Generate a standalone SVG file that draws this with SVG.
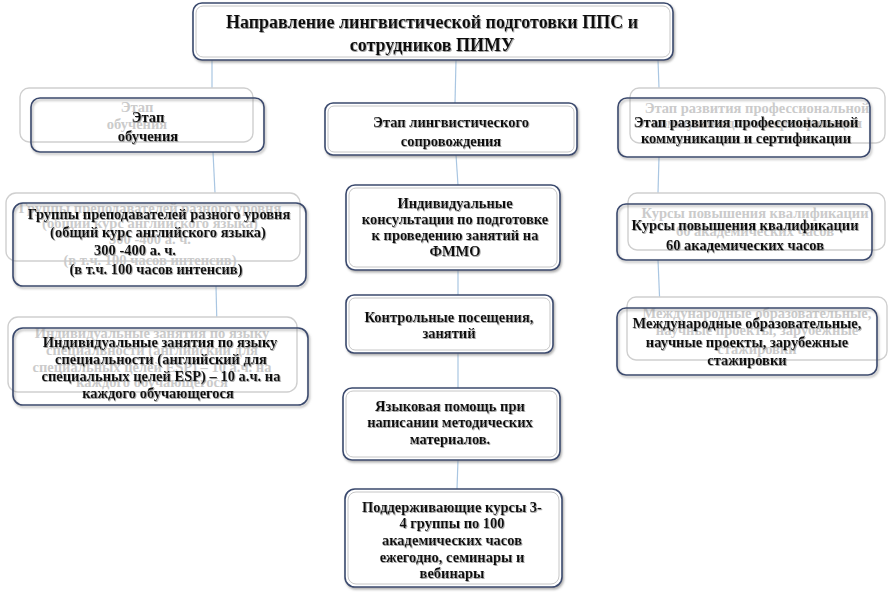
<svg xmlns="http://www.w3.org/2000/svg" width="888" height="592" viewBox="0 0 888 592">
<defs>
<filter id="sh" x="-5%" y="-5%" width="115%" height="125%">
<feDropShadow dx="1.2" dy="1.8" stdDeviation="1.2" flood-color="#777" flood-opacity="0.6"/>
</filter>
<filter id="ts" x="-5%" y="-20%" width="110%" height="150%">
<feDropShadow dx="0.8" dy="1" stdDeviation="0.6" flood-color="#888" flood-opacity="0.8"/>
</filter>
</defs>
<style>
.box{fill:#fff;stroke:#3a4a6e;stroke-width:1.6;filter:url(#sh)}
.open{fill:none}
.inner{fill:none;stroke:#b8b8b8;stroke-width:0.8}
.ghost{fill:#fff;stroke:#cfcfcf;stroke-width:1.4}
.t{font-family:"Liberation Serif","Times New Roman",serif;font-weight:bold;font-size:14.5px;fill:#111;text-anchor:middle;filter:url(#ts)}
.title{font-size:18px}
.g{font-family:"Liberation Serif","Times New Roman",serif;font-weight:bold;font-size:14.5px;fill:#cbcbcb;text-anchor:middle}
.c{fill:none;stroke:#a9c6e2;stroke-width:1.2}
</style>
<rect width="888" height="592" fill="#fff"/>
<g id="connectors">
<line class="c" x1="212" y1="60" x2="212" y2="88"/>
<line class="c" x1="213" y1="152" x2="215" y2="193"/>
<line class="c" x1="216" y1="286" x2="217" y2="328"/>
<line class="c" x1="456" y1="60" x2="455" y2="103"/>
<line class="c" x1="456" y1="155" x2="458" y2="185"/>
<line class="c" x1="458" y1="270" x2="458" y2="295"/>
<line class="c" x1="458" y1="353" x2="458" y2="388"/>
<line class="c" x1="458" y1="460" x2="457" y2="489"/>
<line class="c" x1="658" y1="60" x2="659" y2="88"/>
<line class="c" x1="659" y1="157" x2="658" y2="193"/>
<line class="c" x1="658" y1="260" x2="660" y2="308"/>
</g>
<g id="title">
<rect class="box" x="193" y="3" width="480" height="57" rx="9"/>
<rect class="inner" x="196" y="6" width="474" height="51" rx="7"/>
<text class="t title" x="432" y="28">Направление лингвистической подготовки ППС и</text>
<text class="t title" x="432" y="51">сотрудников ПИМУ</text>
</g>
<g id="left1">
<rect class="ghost" x="20" y="88" width="233" height="54" rx="9"/>
<text class="g" x="137" y="112">Этап</text>
<text class="g" x="137" y="129">обучения</text>
<rect class="box open" x="31" y="98" width="233" height="54" rx="9"/>
<text class="t" x="148" y="122">Этап</text>
<text class="t" x="148" y="141">обучения</text>
</g>
<g id="left2">
<rect class="ghost" x="6" y="193" width="294" height="68" rx="10"/>
<text class="g" x="150" y="213">Группы преподавателей разного уровня</text>
<text class="g" x="150" y="228">(общий курс английского языка)</text>
<text class="g" x="150" y="244" font-size="12">300 -400 а. ч.</text>
<text class="g" x="150" y="265">(в т.ч. 100 часов интенсив)</text>
<rect class="box open" x="13" y="203" width="293" height="83" rx="10"/>
<text class="t" x="159" y="219">Группы преподавателей разного уровня</text>
<text class="t" x="158" y="237">(общий курс английского языка)</text>
<text class="t" x="135" y="255">300 -400 а. ч.</text>
<text class="t" x="156" y="274">(в т.ч. 100 часов интенсив)</text>
</g>
<g id="left3">
<rect class="ghost" x="8" y="317" width="289" height="75" rx="10"/>
<text class="g" x="152" y="338">Индивидуальные занятия по языку</text>
<text class="g" x="152" y="355">специальности (английский для</text>
<text class="g" x="152" y="372">специальных целей ESP) – 10 а.ч. на</text>
<text class="g" x="152" y="387">каждого обучающегося</text>
<rect class="box open" x="13" y="328" width="295" height="77" rx="10"/>
<text class="t" x="160" y="347">Индивидуальные занятия по языку</text>
<text class="t" x="161" y="364">специальности (английский для</text>
<text class="t" x="161" y="381">специальных целей ESP) – 10 а.ч. на</text>
<text class="t" x="158" y="398">каждого обучающегося</text>
</g>
<g id="mid1">
<rect class="box" x="325" y="103" width="252" height="52" rx="8"/>
<rect class="inner" x="328" y="106" width="246" height="46" rx="6"/>
<text class="t" x="451" y="127">Этап лингвистического</text>
<text class="t" x="451" y="146">сопровождения</text>
</g>
<g id="mid2">
<rect class="box" x="346" y="185" width="214" height="85" rx="9"/>
<rect class="inner" x="349" y="188" width="208" height="79" rx="7"/>
<text class="t" x="455" y="208">Индивидуальные</text>
<text class="t" x="455" y="224">консультации по подготовке</text>
<text class="t" x="455" y="240">к проведению занятий на</text>
<text class="t" x="455" y="256">ФММО</text>
</g>
<g id="mid3">
<rect class="box" x="346" y="295" width="207" height="58" rx="8"/>
<rect class="inner" x="349" y="298" width="201" height="52" rx="6"/>
<text class="t" x="449" y="322">Контрольные посещения,</text>
<text class="t" x="449" y="338">занятий</text>
</g>
<g id="mid4">
<rect class="box" x="343" y="388" width="217" height="72" rx="9"/>
<rect class="inner" x="346" y="391" width="211" height="66" rx="7"/>
<text class="t" x="450" y="411">Языковая помощь при</text>
<text class="t" x="450" y="427">написании методических</text>
<text class="t" x="450" y="444">материалов.</text>
</g>
<g id="mid5">
<rect class="box" x="345" y="489" width="217" height="98" rx="10"/>
<rect class="inner" x="348" y="492" width="211" height="92" rx="8"/>
<text class="t" x="452" y="512">Поддерживающие курсы 3-</text>
<text class="t" x="452" y="528">4 группы по 100</text>
<text class="t" x="452" y="545">академических часов</text>
<text class="t" x="452" y="562">ежегодно, семинары и</text>
<text class="t" x="452" y="578">вебинары</text>
</g>
<g id="right1">
<rect class="ghost" x="630" y="88" width="255" height="55" rx="9"/>
<text class="g" x="757" y="113">Этап развития профессиональной</text>
<text class="g" x="757" y="128">коммуникации и сертификации</text>
<rect class="box open" x="618" y="98" width="252" height="59" rx="9"/>
<text class="t" x="746" y="127">Этап развития профессиональной</text>
<text class="t" x="746" y="143">коммуникации и сертификации</text>
</g>
<g id="right2">
<rect class="ghost" x="628" y="193" width="257" height="57" rx="9"/>
<text class="g" x="755" y="218">Курсы повышения квалификации</text>
<text class="g" x="755" y="236">60 академических часов</text>
<rect class="box open" x="617" y="204" width="255" height="56" rx="9"/>
<text class="t" x="745" y="230">Курсы повышения квалификации</text>
<text class="t" x="745" y="250">60 академических часов</text>
</g>
<g id="right3">
<rect class="ghost" x="627" y="297" width="260" height="63" rx="9"/>
<text class="g" x="757" y="318">Международные образовательные,</text>
<text class="g" x="757" y="335">научные проекты, зарубежные</text>
<text class="g" x="757" y="354">стажировки</text>
<rect class="box open" x="617" y="308" width="260" height="67" rx="9"/>
<text class="t" x="747" y="328">Международные образовательные,</text>
<text class="t" x="747" y="347">научные проекты, зарубежные</text>
<text class="t" x="747" y="365">стажировки</text>
</g>
</svg>
